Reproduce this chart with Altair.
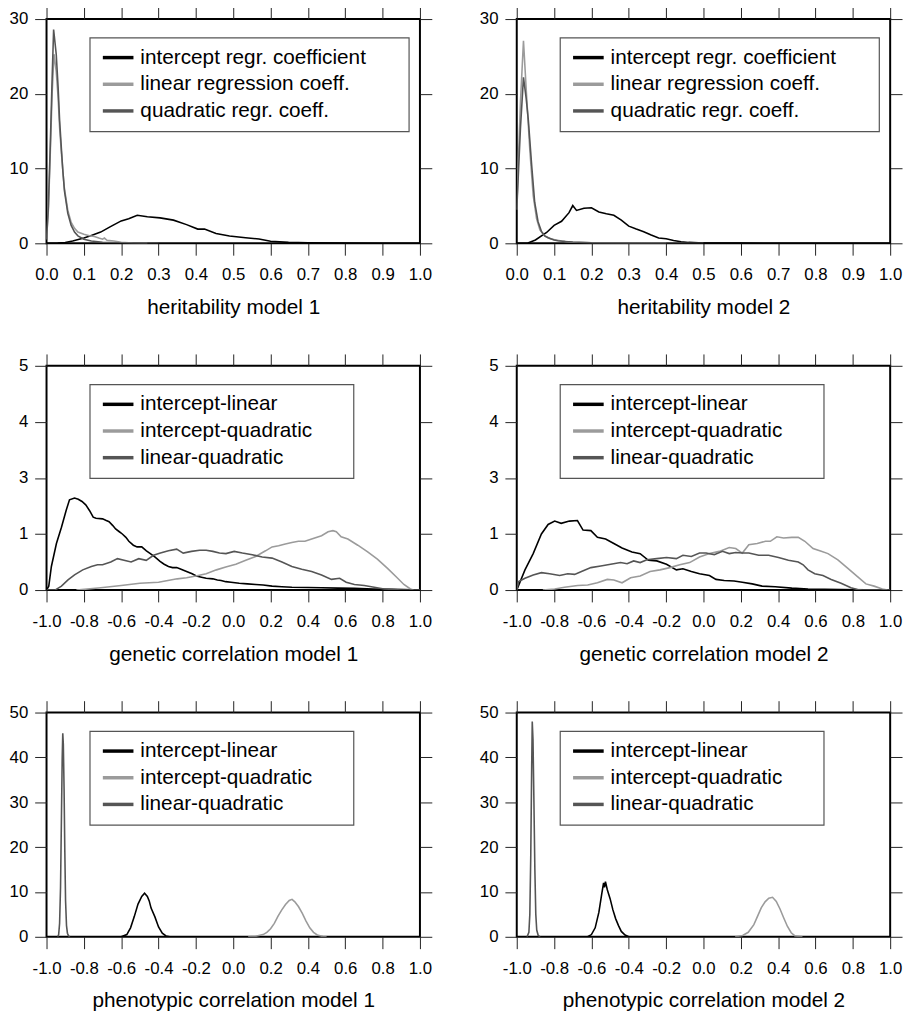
import altair as alt
import pandas as pd

FONT = "Liberation Sans"
COLORS = ["#000000", "#9b9b9b", "#555555"]

# ---------------- series names ----------------
names_h = ["intercept regr. coefficient", "linear regression coeff.", "quadratic regr. coeff."]
names_c = ["intercept-linear", "intercept-quadratic", "linear-quadratic"]

# ---------------- tick values / labels ----------------
h_xticks = [0.0, 0.1, 0.2, 0.3, 0.4, 0.5, 0.6, 0.7, 0.8, 0.9, 1.0]
c_xticks = [-1.0, -0.8, -0.6, -0.4, -0.2, 0.0, 0.2, 0.4, 0.6, 0.8, 1.0]
h_yticks = [0, 10, 20, 30]
g_yticks = [0, 1, 2, 3, 4]
g_ylabels = ["0", "1", "3", "4", "5"]
p_yticks = [0, 10, 20, 30, 40, 50]

# ---------------- heritability model 1 ----------------
h1_int_x = [0.0, 0.03, 0.05, 0.07, 0.1, 0.12, 0.145, 0.17, 0.2, 0.22, 0.243, 0.27, 0.304, 0.34, 0.375, 0.405, 0.423, 0.454, 0.49, 0.533, 0.569, 0.6, 0.648, 0.7, 0.8, 0.9, 1.0]
h1_int_y = [0.0, 0.03, 0.12, 0.3, 0.7, 1.05, 1.5, 2.2, 3.0, 3.3, 3.75, 3.55, 3.4, 3.1, 2.5, 1.9, 1.9, 1.3, 0.97, 0.75, 0.57, 0.28, 0.13, 0.06, 0.02, 0.01, 0.0]
h1_lin_x = [0.0, 0.005, 0.01, 0.015, 0.02, 0.026, 0.031, 0.035, 0.04, 0.044, 0.048, 0.057, 0.066, 0.075, 0.084, 0.1, 0.115, 0.128, 0.14, 0.15, 0.155, 0.162, 0.18, 0.2, 0.23, 0.27]
h1_lin_y = [0.5, 4.5, 12.0, 20.0, 25.3, 23.0, 19.5, 15.5, 12.0, 9.5, 7.3, 4.4, 2.8, 2.0, 1.5, 1.2, 1.0, 0.9, 0.7, 0.55, 0.7, 0.4, 0.3, 0.15, 0.05, 0.0]
h1_quad_x = [0.0, 0.005, 0.01, 0.015, 0.019, 0.026, 0.031, 0.035, 0.04, 0.044, 0.048, 0.057, 0.066, 0.075, 0.084, 0.1, 0.12, 0.15, 0.2, 0.25, 0.3]
h1_quad_y = [0.5, 5.0, 13.0, 22.0, 28.6, 25.3, 20.9, 16.5, 12.5, 9.5, 7.0, 4.0, 2.4, 1.5, 1.0, 0.55, 0.3, 0.15, 0.05, 0.02, 0.0]

# ---------------- heritability model 2 ----------------
h2_int_x = [0.0, 0.03, 0.05, 0.08, 0.1, 0.12, 0.14, 0.15, 0.16, 0.18, 0.2, 0.22, 0.24, 0.26, 0.28, 0.3, 0.32, 0.34, 0.36, 0.38, 0.4, 0.42, 0.44, 0.46, 0.5, 0.6, 0.7, 0.8, 0.9, 1.0]
h2_int_y = [0.0, 0.05, 0.45, 1.45, 2.4, 2.95, 4.1, 5.05, 4.4, 4.7, 4.75, 4.2, 3.95, 3.75, 3.1, 2.3, 1.9, 1.55, 1.1, 0.7, 0.6, 0.38, 0.2, 0.12, 0.05, 0.02, 0.01, 0.0, 0.0, 0.0]
h2_lin_x = [0.0, 0.005, 0.01, 0.018, 0.026, 0.035, 0.044, 0.053, 0.062, 0.075, 0.09, 0.105, 0.12, 0.15, 0.2, 0.3, 0.4]
h2_lin_y = [4.5, 12.0, 19.0, 27.1, 20.0, 12.5, 6.4, 3.3, 1.8, 0.97, 0.6, 0.45, 0.3, 0.15, 0.06, 0.02, 0.0]
h2_quad_x = [0.0, 0.005, 0.01, 0.018, 0.025, 0.031, 0.04, 0.048, 0.057, 0.066, 0.075, 0.084, 0.1, 0.11, 0.13, 0.15, 0.2, 0.3, 0.4, 0.5]
h2_quad_y = [4.5, 10.0, 15.5, 22.2, 19.5, 16.5, 10.4, 5.5, 2.9, 1.6, 1.0, 0.75, 0.45, 0.35, 0.25, 0.18, 0.08, 0.03, 0.01, 0.0]

# ---------------- genetic correlation model 1 ----------------
g1_il_x = [-1.0, -0.988, -0.974, -0.947, -0.92, -0.895, -0.877, -0.85, -0.83, -0.81, -0.79, -0.77, -0.75, -0.735, -0.70, -0.68, -0.665, -0.645, -0.63, -0.61, -0.594, -0.575, -0.559, -0.535, -0.515, -0.49, -0.465, -0.444, -0.42, -0.392, -0.37, -0.347, -0.325, -0.303, -0.286, -0.25, -0.22, -0.198, -0.17, -0.145, -0.109, -0.085, -0.065, -0.04, -0.012, 0.032, 0.076, 0.12, 0.16, 0.208, 0.26, 0.314, 0.4, 0.473, 0.56, 0.649, 0.75, 0.85, 0.914, 1.0]
g1_il_y = [0.0, 0.07, 0.42, 0.83, 1.12, 1.42, 1.61, 1.64, 1.62, 1.58, 1.52, 1.42, 1.30, 1.28, 1.27, 1.24, 1.22, 1.15, 1.09, 1.04, 1.0, 0.94, 0.87, 0.80, 0.77, 0.77, 0.70, 0.65, 0.59, 0.51, 0.46, 0.42, 0.40, 0.40, 0.38, 0.33, 0.29, 0.25, 0.23, 0.21, 0.20, 0.18, 0.17, 0.15, 0.14, 0.12, 0.11, 0.10, 0.09, 0.07, 0.06, 0.05, 0.045, 0.04, 0.035, 0.03, 0.02, 0.015, 0.01, 0.0]
g1_iq_x = [-0.84, -0.71, -0.60, -0.50, -0.40, -0.30, -0.25, -0.20, -0.145, -0.09, -0.04, 0.014, 0.067, 0.12, 0.173, 0.208, 0.243, 0.279, 0.314, 0.349, 0.384, 0.42, 0.473, 0.508, 0.534, 0.552, 0.578, 0.614, 0.667, 0.72, 0.772, 0.825, 0.878, 0.914, 0.949, 0.965]
g1_iq_y = [0.0, 0.04, 0.08, 0.12, 0.14, 0.2, 0.22, 0.25, 0.29, 0.36, 0.41, 0.46, 0.53, 0.6, 0.7, 0.77, 0.79, 0.82, 0.85, 0.87, 0.87, 0.91, 0.97, 1.04, 1.06, 1.04, 0.95, 0.91, 0.80, 0.68, 0.55, 0.39, 0.22, 0.10, 0.02, 0.0]
g1_lq_x = [-1.0, -0.955, -0.92, -0.885, -0.85, -0.806, -0.76, -0.727, -0.70, -0.656, -0.62, -0.585, -0.547, -0.506, -0.466, -0.427, -0.39, -0.347, -0.303, -0.268, -0.224, -0.18, -0.145, -0.109, -0.074, -0.039, 0.005, 0.049, 0.102, 0.155, 0.208, 0.261, 0.314, 0.367, 0.42, 0.473, 0.526, 0.57, 0.605, 0.649, 0.702, 0.755, 0.808, 0.86, 0.9, 1.0]
g1_lq_y = [0.0, 0.0, 0.07, 0.18, 0.27, 0.36, 0.42, 0.45, 0.45, 0.50, 0.56, 0.53, 0.50, 0.56, 0.53, 0.62, 0.66, 0.70, 0.73, 0.66, 0.69, 0.71, 0.71, 0.69, 0.66, 0.65, 0.69, 0.66, 0.63, 0.59, 0.57, 0.50, 0.42, 0.37, 0.33, 0.27, 0.19, 0.21, 0.14, 0.10, 0.08, 0.05, 0.02, 0.01, 0.0, 0.0]

# ---------------- genetic correlation model 2 ----------------
g2_il_x = [-1.0, -0.956, -0.912, -0.868, -0.832, -0.797, -0.762, -0.718, -0.675, -0.645, -0.603, -0.568, -0.524, -0.48, -0.436, -0.383, -0.339, -0.295, -0.25, -0.198, -0.145, -0.11, -0.065, -0.021, 0.032, 0.067, 0.111, 0.164, 0.208, 0.261, 0.314, 0.384, 0.473, 0.56, 0.737, 1.0]
g2_il_y = [0.0, 0.36, 0.65, 1.0, 1.17, 1.23, 1.19, 1.23, 1.24, 1.07, 1.06, 0.94, 0.91, 0.83, 0.75, 0.68, 0.65, 0.53, 0.52, 0.46, 0.36, 0.38, 0.33, 0.29, 0.26, 0.19, 0.17, 0.16, 0.14, 0.11, 0.07, 0.06, 0.035, 0.02, 0.01, 0.0]
g2_iq_x = [-0.86, -0.797, -0.744, -0.674, -0.62, -0.568, -0.515, -0.48, -0.436, -0.39, -0.339, -0.286, -0.233, -0.18, -0.127, -0.074, -0.021, 0.032, 0.085, 0.138, 0.173, 0.208, 0.243, 0.288, 0.332, 0.358, 0.393, 0.429, 0.473, 0.508, 0.543, 0.587, 0.631, 0.667, 0.72, 0.772, 0.825, 0.87, 0.914, 0.958, 0.985]
g2_iq_y = [0.0, 0.02, 0.05, 0.08, 0.09, 0.13, 0.19, 0.18, 0.13, 0.22, 0.25, 0.33, 0.36, 0.40, 0.45, 0.49, 0.59, 0.65, 0.69, 0.76, 0.74, 0.66, 0.81, 0.83, 0.87, 0.87, 0.95, 0.93, 0.94, 0.94, 0.87, 0.74, 0.69, 0.65, 0.54, 0.39, 0.24, 0.11, 0.07, 0.02, 0.0]
g2_lq_x = [-1.0, -0.99, -0.956, -0.912, -0.868, -0.824, -0.77, -0.727, -0.69, -0.647, -0.603, -0.55, -0.497, -0.444, -0.409, -0.374, -0.339, -0.303, -0.25, -0.198, -0.145, -0.11, -0.065, -0.021, 0.014, 0.058, 0.102, 0.138, 0.173, 0.208, 0.243, 0.296, 0.349, 0.402, 0.455, 0.508, 0.534, 0.56, 0.596, 0.64, 0.684, 0.737, 0.79, 0.825, 0.85, 1.0]
g2_lq_y = [0.0, 0.15, 0.21, 0.27, 0.31, 0.29, 0.26, 0.29, 0.28, 0.34, 0.40, 0.43, 0.46, 0.49, 0.47, 0.52, 0.49, 0.54, 0.56, 0.58, 0.56, 0.62, 0.60, 0.66, 0.66, 0.63, 0.69, 0.65, 0.67, 0.66, 0.66, 0.62, 0.62, 0.58, 0.53, 0.50, 0.45, 0.36, 0.29, 0.26, 0.19, 0.12, 0.04, 0.01, 0.0, 0.0]

# ---------------- phenotypic correlation model 1 ----------------
p1_il_x = [-0.6, -0.57, -0.55, -0.53, -0.51, -0.49, -0.475, -0.46, -0.45, -0.44, -0.42, -0.40, -0.38, -0.36, -0.34]
p1_il_y = [0.0, 0.5, 2.0, 4.5, 7.3, 9.0, 9.7, 9.0, 8.0, 6.4, 4.5, 2.2, 0.8, 0.2, 0.0]
p1_iq_x = [0.08, 0.12, 0.16, 0.18, 0.2, 0.22, 0.24, 0.26, 0.28, 0.3, 0.315, 0.33, 0.35, 0.37, 0.39, 0.41, 0.43, 0.45, 0.48, 0.5]
p1_iq_y = [0.0, 0.1, 0.5, 1.0, 1.8, 3.0, 4.6, 6.0, 7.2, 8.1, 8.35, 7.8, 6.7, 5.2, 3.5, 2.0, 1.0, 0.4, 0.05, 0.0]
p1_lq_x = [-0.94, -0.935, -0.93, -0.925, -0.92, -0.916, -0.913, -0.91, -0.906, -0.902, -0.898, -0.893, -0.888, -0.882, -0.875]
p1_lq_y = [0.0, 0.5, 3.0, 11.0, 27.0, 40.0, 45.4, 43.0, 33.0, 19.0, 8.0, 2.5, 0.8, 0.2, 0.0]

# ---------------- phenotypic correlation model 2 ----------------
p2_il_x = [-0.62, -0.60, -0.58, -0.56, -0.545, -0.535, -0.53, -0.525, -0.515, -0.50, -0.485, -0.47, -0.455, -0.44, -0.42, -0.40]
p2_il_y = [0.0, 0.5, 2.0, 5.5, 9.5, 12.0, 11.0, 12.3, 10.5, 8.5, 6.0, 4.0, 2.5, 1.2, 0.4, 0.0]
p2_iq_x = [0.17, 0.21, 0.24, 0.27, 0.29, 0.31, 0.33, 0.35, 0.37, 0.39, 0.41, 0.43, 0.45, 0.47, 0.49, 0.53]
p2_iq_y = [0.0, 0.3, 1.0, 2.7, 4.6, 6.5, 7.8, 8.6, 8.8, 7.9, 6.2, 4.2, 2.3, 0.9, 0.2, 0.0]
p2_lq_x = [-0.945, -0.935, -0.93, -0.925, -0.92, -0.917, -0.913, -0.908, -0.903, -0.898, -0.893, -0.885, -0.875]
p2_lq_y = [0.0, 1.0, 5.0, 18.0, 38.0, 48.0, 44.0, 30.0, 15.0, 5.0, 1.5, 0.3, 0.0]

W, H = 378, 227


def long_df(names, xs_list, ys_list):
    rows = []
    for name, xs, ys in zip(names, xs_list, ys_list):
        for i, (x, y) in enumerate(zip(xs, ys)):
            rows.append({"series": name, "x": x, "y": y, "order": i})
    return pd.DataFrame(rows)


X_FMT_POS = "format(datum.value, '.1f')"
X_FMT_SIGNED = "(datum.value < -0.0001 ? '-' : '') + format(abs(datum.value), '.1f')"


def label_expr_from(values, labels):
    expr = "''"
    for v, lab in reversed(list(zip(values, labels))):
        expr = f"(abs(datum.value - {v}) < 0.001 ? '{lab}' : {expr})"
    return expr


AX = dict(domain=False, grid=False, tickSize=12, tickColor="#222222", tickWidth=1,
          labelFont=FONT, labelFontSize=17, labelColor="black",
          titleFont=FONT, titleFontSize=21, titleFontWeight="normal", titleColor="black")


def panel(df, names, xdom, xticks, xfmt, ydom, yticks, ylabexpr, xtitle, legend_w):
    color = alt.Color("series:N", scale=alt.Scale(domain=names, range=COLORS), legend=None)
    xs = alt.Scale(domain=xdom, nice=False, zero=False)
    ys = alt.Scale(domain=ydom, nice=False, zero=False)

    lines = alt.Chart(df).mark_line(strokeWidth=1.6, clip=True).encode(
        x=alt.X("x:Q", scale=xs, axis=alt.Axis(orient="bottom", values=xticks, labelExpr=xfmt,
                                               title=xtitle, labelPadding=12, titlePadding=14,
                                               labelFlush=False, labelOverlap=False, **AX)),
        y=alt.Y("y:Q", scale=ys, axis=alt.Axis(orient="left", values=yticks, labelExpr=ylabexpr,
                                               title=None, labelPadding=7, labelFlush=False,
                                               labelOverlap=False, **AX)),
        color=color,
        order=alt.Order("order:Q"),
    )
    mirror = alt.Chart(df).mark_line(opacity=0).encode(
        x=alt.X("x:Q", scale=xs, axis=alt.Axis(orient="top", values=xticks, labels=False, title=None, **AX)),
        y=alt.Y("y:Q", scale=ys, axis=alt.Axis(orient="right", values=yticks, labels=False, title=None, **AX)),
        detail="series:N",
    )

    leg_df = pd.DataFrame({"series": names, "rank": list(range(len(names)))})
    box = alt.Chart(alt.Data(values=[{"k": 1}])).mark_rect(
        fill="white", stroke="#555555", strokeWidth=1.2
    ).encode(x=alt.value(44), x2=alt.value(44 + legend_w), y=alt.value(19), y2=alt.value(114))
    sym = alt.Chart(leg_df).transform_calculate(py="39 + datum.rank * 27").mark_rule(strokeWidth=3.5).encode(
        x=alt.value(57), x2=alt.value(88), y=alt.Y("py:Q", scale=None, axis=None), color=color
    )
    txt = alt.Chart(leg_df).transform_calculate(py="39 + datum.rank * 27").mark_text(
        align="left", baseline="middle", font=FONT, fontSize=21, color="black"
    ).encode(x=alt.value(95), y=alt.Y("py:Q", scale=None, axis=None), text="series:N")

    return alt.layer(mirror, lines, box, sym, txt).resolve_axis(x="independent", y="independent").properties(
        width=W, height=H
    )


y_g_expr = label_expr_from(g_yticks, g_ylabels)

p_h1 = panel(long_df(names_h, [h1_int_x, h1_lin_x, h1_quad_x], [h1_int_y, h1_lin_y, h1_quad_y]), names_h,
             [0, 1], h_xticks, X_FMT_POS, [0, 30], h_yticks, "format(datum.value, 'd')", "heritability model 1", 323)
p_h2 = panel(long_df(names_h, [h2_int_x, h2_lin_x, h2_quad_x], [h2_int_y, h2_lin_y, h2_quad_y]), names_h,
             [0, 1], h_xticks, X_FMT_POS, [0, 30], h_yticks, "format(datum.value, 'd')", "heritability model 2", 323)
p_g1 = panel(long_df(names_c, [g1_il_x, g1_iq_x, g1_lq_x], [g1_il_y, g1_iq_y, g1_lq_y]), names_c,
             [-1, 1], c_xticks, X_FMT_SIGNED, [0, 4], g_yticks, y_g_expr, "genetic correlation model 1", 267)
p_g2 = panel(long_df(names_c, [g2_il_x, g2_iq_x, g2_lq_x], [g2_il_y, g2_iq_y, g2_lq_y]), names_c,
             [-1, 1], c_xticks, X_FMT_SIGNED, [0, 4], g_yticks, y_g_expr, "genetic correlation model 2", 267)
p_p1 = panel(long_df(names_c, [p1_il_x, p1_iq_x, p1_lq_x], [p1_il_y, p1_iq_y, p1_lq_y]), names_c,
             [-1, 1], c_xticks, X_FMT_SIGNED, [0, 50], p_yticks, "format(datum.value, 'd')", "phenotypic correlation model 1", 267)
p_p2 = panel(long_df(names_c, [p2_il_x, p2_iq_x, p2_lq_x], [p2_il_y, p2_iq_y, p2_lq_y]), names_c,
             [-1, 1], c_xticks, X_FMT_SIGNED, [0, 50], p_yticks, "format(datum.value, 'd')", "phenotypic correlation model 2", 267)

chart = alt.concat(p_h1, p_h2, p_g1, p_g2, p_p1, p_p2, columns=2, spacing={"row": 34, "column": 45}).properties(
    padding={"left": 0, "top": -9, "right": 0, "bottom": 0},
    background="white",
).configure_view(
    stroke="black", strokeWidth=2
)

chart.save("out.html", embed_options={"renderer": "svg", "actions": False})
